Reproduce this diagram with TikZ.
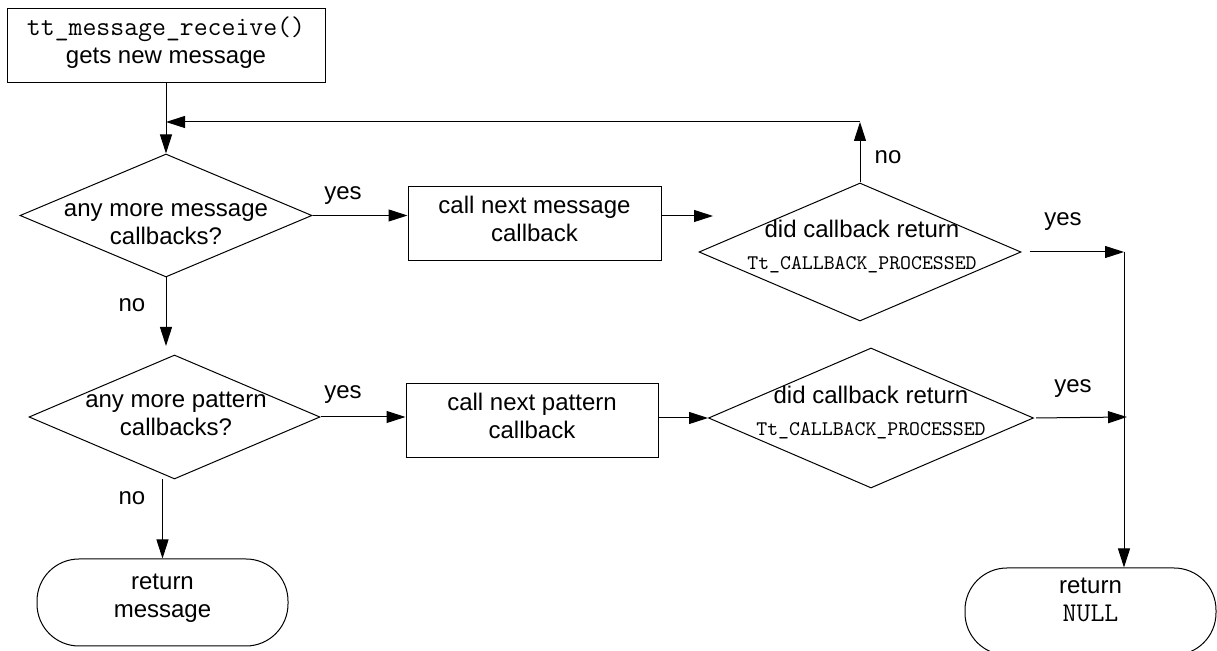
\documentclass[tikz,border=0pt]{standalone}
\usepackage{fontspec}
\setmainfont{Liberation Sans}
\usepackage{tikz}
\usetikzlibrary{arrows.meta,positioning}
\usetikzlibrary{shapes.geometric}

\newcommand{\code}[1]{{\fontsize{13.5}{14}\selectfont\ttfamily #1}}
\newcommand{\cbcode}[1]{{\fontsize{10.4}{11}\selectfont\ttfamily #1}}

\tikzset{
  stepbox/.style={draw, rectangle, align=center, inner sep=0pt, text depth=5.5pt, line width=0.5pt},
  decision/.style={draw, diamond, inner sep=0pt, line width=0.5pt},
  terminal/.style={draw, rectangle, rounded corners=21pt, align=center, inner sep=0pt, text depth=7pt, line width=0.5pt, minimum width=125.5pt, minimum height=43.5pt},
  flow/.style={line width=0.5pt, -{Triangle[length=9.5pt,width=6pt]}}
}

\begin{document}
\begin{tikzpicture}[x=0.5pt, y=-0.5pt, font=\fontsize{12}{14}\selectfont]
	\useasboundingbox (0,0) rectangle (1217,651);
	\node[stepbox, minimum width=159pt, minimum height=37pt] (receive) at (166,46) {\code{tt\_message\_receive()}\\gets new message};
	\node[decision, minimum width=146pt, minimum height=61.5pt] (msgmore) at (166,215.5) {};
	\node[align=center] (msgmoretext) at (166,224) {any more message\\callbacks?};
	\node[stepbox, minimum width=126.5pt, minimum height=37pt] (msgcall) at (534.5,224) {call next message\\callback};
	\node[decision, minimum width=161pt, minimum height=69pt] (msgcheck) at (860,252) {};
	\node[align=center] (msgchecktext) at (862,247) {did callback return\\[2pt]\cbcode{Tt\_CALLBACK\_PROCESSED}};
	\node[decision, minimum width=145.5pt, minimum height=62pt] (patmore) at (174.5,417) {};
	\node[align=center] (patmoretext) at (176,414) {any more pattern\\callbacks?};
	\node[stepbox, minimum width=126pt, minimum height=37pt] (patcall) at (532,421) {call next pattern\\callback};
	\node[decision, minimum width=162.5pt, minimum height=70pt] (patcheck) at (871,418) {};
	\node[align=center] (patchecktext) at (871,413) {did callback return\\[2pt]\cbcode{Tt\_CALLBACK\_PROCESSED}};
	\node[terminal] (retmsg) at (162.5,602.5) {return\\message};
	\node[terminal, text depth=12pt] (retnull) at (1090.5,611.5) {return\\\code{NULL}};

	\coordinate (loopcorner) at (860,122);
	\coordinate (patmoretop) at (166,346);
	\coordinate (msgcallout) at (713,216);
	\coordinate (jointop) at (1124,252);
	\coordinate (joinbottom) at (1127,417);

	\draw[flow] (receive) -- (msgmore);
	\draw[flow] (msgcheck.north) -- (loopcorner);
	\draw[flow] (loopcorner) -- (receive.south |- loopcorner);
	\draw[flow] (msgmore.east) -- (msgcall.west |- msgmore.east);
	\draw[flow] (msgcall.east |- msgcallout) -- (msgcallout);
	\draw[flow] (msgmore.south) -- (patmoretop);
	\draw[flow] (patmore.east) -- (patcall.west |- patmore.east);
	\draw[flow] (patcall.east |- patcheck.west) -- (patcheck.west);
	\draw[flow] (patmore.south -| retmsg.north) -- (retmsg.north);
	\draw[flow, shorten <=4pt] (msgcheck.east) -- (jointop);
	\draw[flow, shorten <=1pt] (patcheck.east) -- (joinbottom);
	\draw[flow] (jointop) -- (jointop |- retnull.north);

	\node (yesmsg) at (343,196) {yes};
	\node (nomsg) at (132,305) {no};
	\node (yespat) at (343,395) {yes};
	\node (nopat) at (132,498) {no};
	\node (nocheck) at (888,157) {no};
	\node (yescheck) at (1063,222) {yes};
	\node (yespatcheck) at (1073,389) {yes};
\end{tikzpicture}
\end{document}
